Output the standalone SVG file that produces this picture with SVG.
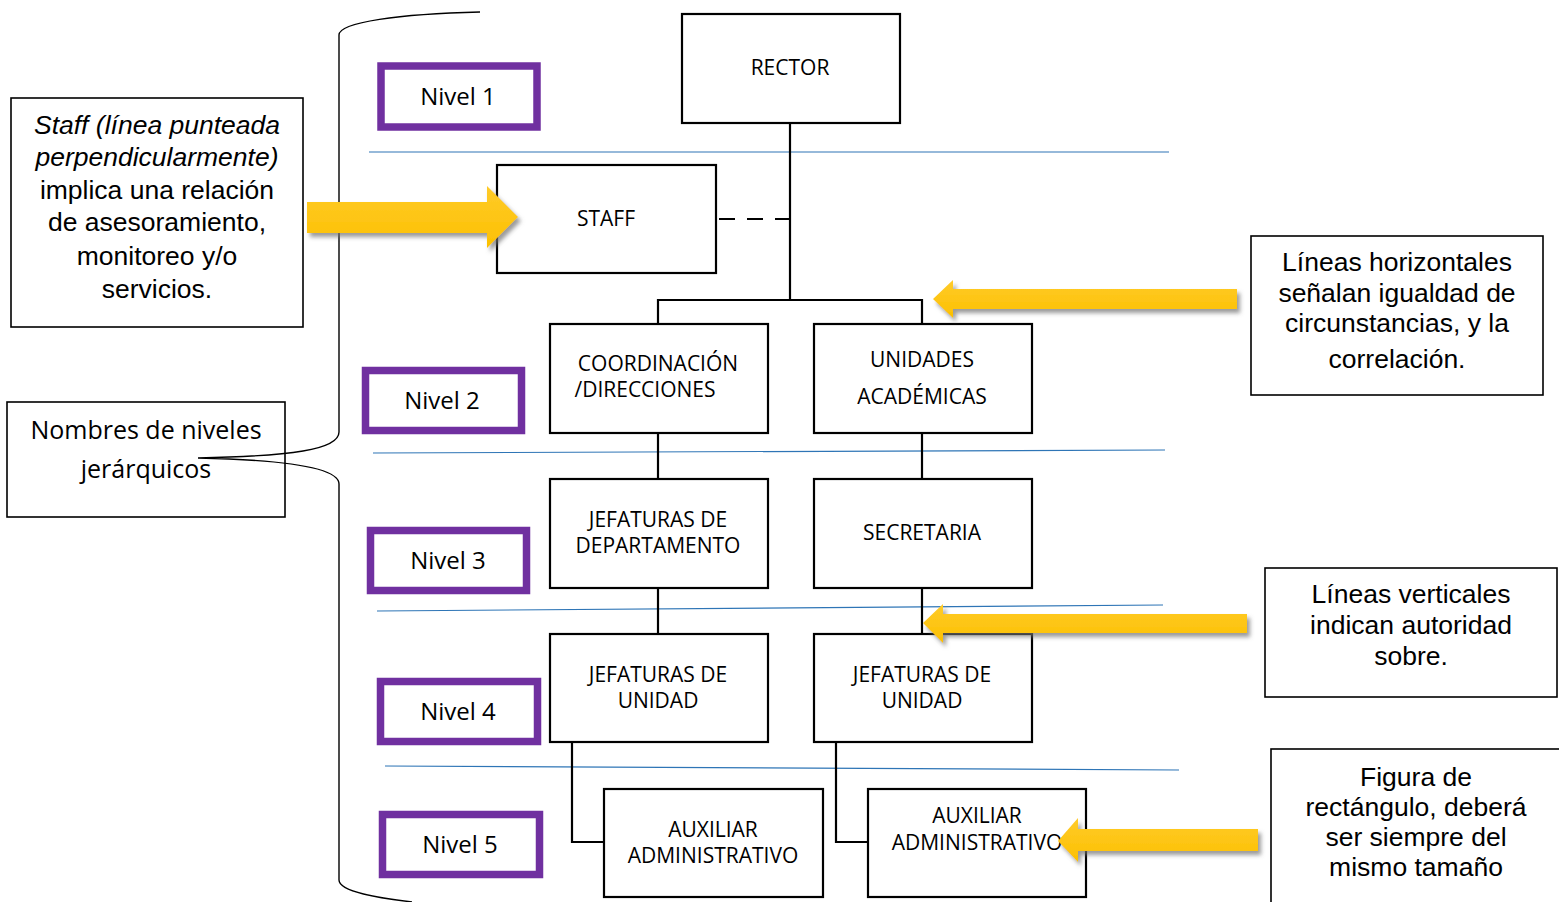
<svg xmlns="http://www.w3.org/2000/svg" width="1559" height="902" viewBox="0 0 1559 902">
<defs>
<style>
.node{fill:#fff;stroke:#000;stroke-width:2.2}
.lbl{font-family:"Open Sans","Noto Sans",sans-serif;font-size:21px;fill:#000;text-anchor:middle}
.niv{fill:#fff;stroke:#7030A0;stroke-width:7.5}
.nivt{font-family:"Open Sans","Noto Sans",sans-serif;font-size:24px;fill:#000;text-anchor:middle}
.nom{font-family:"Open Sans","Noto Sans",sans-serif;font-size:25px;fill:#000;text-anchor:middle}
.note{fill:#fff;stroke:#000;stroke-width:1.6}
.nt{font-family:"Liberation Sans",Arial,sans-serif;font-size:26.5px;fill:#000;text-anchor:middle}
.it{font-style:italic}
.conn{fill:none;stroke:#000;stroke-width:2.2}
.lvl{fill:none;stroke:#2E75B6;stroke-width:1.2}
.arrow{fill:url(#yg);filter:url(#sh)}
</style>
<linearGradient id="yg" x1="0" y1="0" x2="0" y2="1">
<stop offset="0" stop-color="#FFCB2A"/>
<stop offset="1" stop-color="#FCC000"/>
</linearGradient>
<filter id="sh" x="-10%" y="-50%" width="120%" height="200%">
<feDropShadow dx="3" dy="4" stdDeviation="2" flood-color="#707070" flood-opacity="0.7"/>
</filter>
</defs>
<rect width="1559" height="902" fill="#fff"/>

<g id="levels">
<line class="lvl" x1="369" y1="152" x2="1169" y2="152"/>
<line class="lvl" x1="373" y1="453" x2="1165" y2="450"/>
<line class="lvl" x1="377" y1="611" x2="1163" y2="605"/>
<line class="lvl" x1="385" y1="766" x2="1179" y2="770"/>
</g>

<g id="connectors">
<line class="conn" x1="790" y1="123" x2="790" y2="300"/>
<line class="conn" x1="716" y1="219" x2="790" y2="219" stroke-dasharray="16 12" stroke-dashoffset="-3"/>
<polyline class="conn" points="658,324 658,300 922,300 922,324"/>
<line class="conn" x1="658" y1="433" x2="658" y2="479"/>
<line class="conn" x1="922" y1="433" x2="922" y2="479"/>
<line class="conn" x1="658" y1="588" x2="658" y2="634"/>
<line class="conn" x1="922" y1="588" x2="922" y2="634"/>
<polyline class="conn" points="572,742 572,842 604,842"/>
<polyline class="conn" points="836,742 836,842 868,842"/>
</g>

<g id="rector"><rect class="node" x="682" y="14" width="218" height="109"/><text class="lbl" x="790" y="75">RECTOR</text></g>
<g id="staff"><rect class="node" x="497" y="165" width="219" height="108"/><text class="lbl" x="606" y="226">STAFF</text></g>
<g id="coordinacion"><rect class="node" x="550" y="324" width="218" height="109"/><text class="lbl" x="658" y="371">COORDINACIÓN</text><text class="lbl" x="645" y="397">/DIRECCIONES</text></g>
<g id="unidades"><rect class="node" x="814" y="324" width="218" height="109"/><text class="lbl" x="922" y="367">UNIDADES</text><text class="lbl" x="922" y="404">ACADÉMICAS</text></g>
<g id="jefdep"><rect class="node" x="550" y="479" width="218" height="109"/><text class="lbl" x="658" y="527">JEFATURAS DE</text><text class="lbl" x="658" y="553">DEPARTAMENTO</text></g>
<g id="secretaria"><rect class="node" x="814" y="479" width="218" height="109"/><text class="lbl" x="922" y="540">SECRETARIA</text></g>
<g id="jefuni1"><rect class="node" x="550" y="634" width="218" height="108"/><text class="lbl" x="658" y="682">JEFATURAS DE</text><text class="lbl" x="658" y="708">UNIDAD</text></g>
<g id="jefuni2"><rect class="node" x="814" y="634" width="218" height="108"/><text class="lbl" x="922" y="682">JEFATURAS DE</text><text class="lbl" x="922" y="708">UNIDAD</text></g>
<g id="aux1"><rect class="node" x="604" y="789" width="219" height="108"/><text class="lbl" x="713" y="837">AUXILIAR</text><text class="lbl" x="713" y="863">ADMINISTRATIVO</text></g>
<g id="aux2"><rect class="node" x="868" y="789" width="218" height="108"/><text class="lbl" x="977" y="823">AUXILIAR</text><text class="lbl" x="977" y="850">ADMINISTRATIVO</text></g>

<g id="nivel1"><rect class="niv" x="381" y="66" width="156" height="61"/><text class="nivt" x="458" y="105">Nivel 1</text></g>
<g id="nivel2"><rect class="niv" x="365.5" y="370.5" width="156" height="60"/><text class="nivt" x="442" y="409">Nivel 2</text></g>
<g id="nivel3"><rect class="niv" x="370.5" y="530.5" width="156" height="60"/><text class="nivt" x="448" y="569">Nivel 3</text></g>
<g id="nivel4"><rect class="niv" x="380.5" y="681.5" width="157" height="60"/><text class="nivt" x="458" y="720">Nivel 4</text></g>
<g id="nivel5"><rect class="niv" x="382.5" y="814.5" width="157" height="60"/><text class="nivt" x="460" y="853">Nivel 5</text></g>

<g id="note-staff"><rect class="note" x="11" y="98" width="292" height="229"/>
<text class="nt it" x="157" y="134">Staff (línea punteada</text>
<text class="nt it" x="157" y="166">perpendicularmente)</text>
<text class="nt" x="157" y="199">implica una relación</text>
<text class="nt" x="157" y="231">de asesoramiento,</text>
<text class="nt" x="157" y="265">monitoreo y/o</text>
<text class="nt" x="157" y="298">servicios.</text></g>

<g id="note-nombres"><rect class="note" x="7" y="402" width="278" height="115"/>
<text class="nom" x="146" y="439">Nombres de niveles</text>
<text class="nom" x="146" y="478">jerárquicos</text></g>

<g id="note-horizontal"><rect class="note" x="1251" y="236" width="292" height="159"/>
<text class="nt" x="1397" y="271">Líneas horizontales</text>
<text class="nt" x="1397" y="302">señalan igualdad de</text>
<text class="nt" x="1397" y="332">circunstancias, y la</text>
<text class="nt" x="1397" y="368">correlación.</text></g>

<g id="note-vertical"><rect class="note" x="1265" y="568" width="292" height="129"/>
<text class="nt" x="1411" y="603">Líneas verticales</text>
<text class="nt" x="1411" y="634">indican autoridad</text>
<text class="nt" x="1411" y="665">sobre.</text></g>

<g id="note-figura"><rect class="note" x="1271" y="749" width="300" height="170"/>
<text class="nt" x="1416" y="786">Figura de</text>
<text class="nt" x="1416" y="816">rectángulo, deberá</text>
<text class="nt" x="1416" y="846">ser siempre del</text>
<text class="nt" x="1416" y="876">mismo tamaño</text></g>

<g id="brace">
<path d="M480 12 C400 14 339 22 339 35 L339 432 C339 450 290 456 198 458 C290 460 339 468 339 484 L339 880 C339 892 380 898 412 902" fill="none" stroke="#000" stroke-width="1.4"/>
</g>

<g id="arrows">
<polygon class="arrow" points="307,202 487,202 487,186 518,217 487,248 487,233 307,233"/>
<polygon class="arrow" points="1237,289 953,289 953,280 933,299 953,318 953,309 1237,309"/>
<polygon class="arrow" points="1247,614 943,614 943,604 923,623 943,643 943,633 1247,633"/>
<polygon class="arrow" points="1258,829 1078,829 1078,818 1058,841 1078,862 1078,851 1258,851"/>
</g>
</svg>
